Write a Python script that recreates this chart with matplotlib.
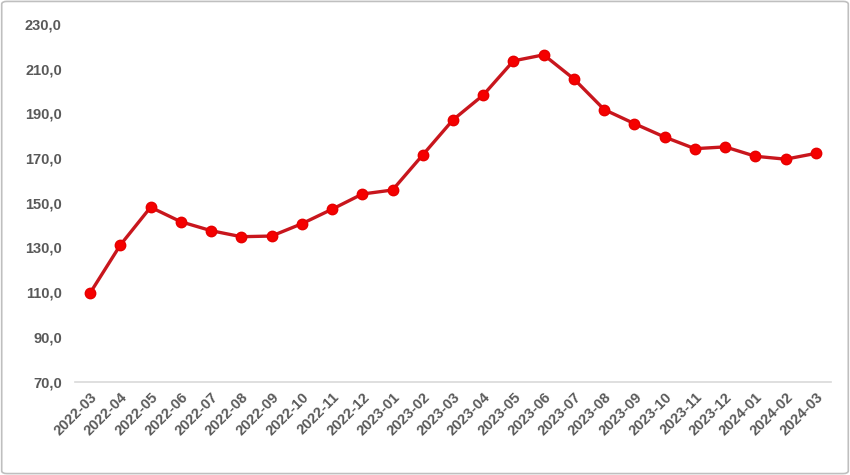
import matplotlib
matplotlib.use("Agg")
import matplotlib.pyplot as plt
from matplotlib.patches import FancyBboxPatch

months = ["2022-03", "2022-04", "2022-05", "2022-06", "2022-07", "2022-08", "2022-09",
          "2022-10", "2022-11", "2022-12", "2023-01", "2023-02", "2023-03", "2023-04",
          "2023-05", "2023-06", "2023-07", "2023-08", "2023-09", "2023-10", "2023-11",
          "2023-12", "2024-01", "2024-02", "2024-03"]
values = [109.6, 131.1, 148.0, 141.5, 137.5, 134.8, 135.1, 140.6, 147.1, 153.9, 155.7,
          171.4, 187.1, 198.2, 213.5, 216.2, 205.4, 191.7, 185.4, 179.4, 174.2, 175.0,
          170.8, 169.5, 172.1]
y_ticks = [70, 90, 110, 130, 150, 170, 190, 210, 230]

plt.rcParams['font.family'] = ['Liberation Sans', 'DejaVu Sans']

fig = plt.figure(figsize=(8.5, 4.75), dpi=100)
ax = fig.add_axes([75/850, 1-381.5/475, (831-75)/850, (381.5-24)/475])

x = list(range(len(months)))
ax.plot(x, values, color='#C8161D', linewidth=2.4, marker='o', markersize=7.5,
        markerfacecolor='#F50000', markeredgecolor='#E60000', zorder=3)

ax.set_xlim(-0.5, len(months) - 0.5)
ax.set_ylim(70, 230)
ax.set_yticks(y_ticks)
ax.set_yticklabels([f"{v:.1f}".replace('.', ',') for v in y_ticks])
ax.set_xticks(x)
ax.set_xticklabels(months, rotation=45, ha='right', rotation_mode='anchor')

for lab in ax.get_xticklabels() + ax.get_yticklabels():
    lab.set_color('#595959')
    lab.set_fontweight('bold')
    lab.set_fontsize(10.5)

for s in ['top', 'right', 'left']:
    ax.spines[s].set_visible(False)
ax.spines['bottom'].set_color('#D9D9D9')
ax.spines['bottom'].set_linewidth(1.2)
ax.tick_params(axis='both', length=0)
ax.tick_params(axis='y', pad=9.5)
ax.tick_params(axis='x', pad=6)

border = FancyBboxPatch((0.002, 0.003), 0.996, 0.994, boxstyle="round,pad=0,rounding_size=0.006",
                        transform=fig.transFigure, fill=False, edgecolor='#BFBFBF',
                        linewidth=1.2)
fig.patches.append(border)

fig.savefig("out.png", dpi=100)
